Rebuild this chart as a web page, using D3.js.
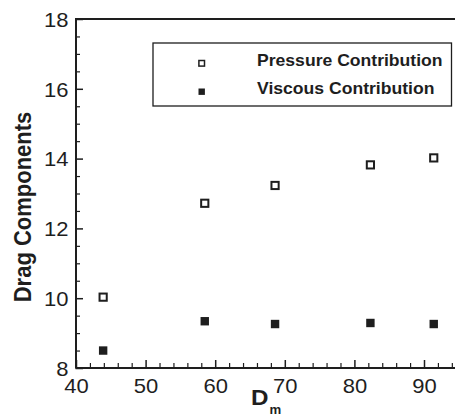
<!DOCTYPE html>
<html>
<head>
<meta charset="utf-8">
<script src="https://cdn.jsdelivr.net/npm/d3@7"></script>
<style>
  html, body { margin: 0; padding: 0; background: #fff; }
  svg { display: block; font-family: "Liberation Sans", Arial, Helvetica, sans-serif; }
</style>
</head>
<body>
<svg id="chart" width="455" height="416"></svg>
<script>
// Characteristic size D_m of each configuration
const dm = [43.9, 58.5, 68.6, 82.3, 91.4];
// Drag components for each configuration
const pressure = [10.03, 12.72, 13.23, 13.82, 14.02];
const viscous = [8.5, 9.34, 9.26, 9.29, 9.26];
// Axis ticks
const xMajor = [40, 50, 60, 70, 80, 90];
const yMajor = [8, 10, 12, 14, 16, 18];
const seriesNames = ["Pressure Contribution", "Viscous Contribution"];

const ink = "#1e1e1e";
const stretch = 1.1; // horizontal stretch of the lettering

const svg = d3.select("#chart");

const x = d3.scaleLinear().domain([40, 95]).range([76, 458.8]);
const y = d3.scaleLinear().domain([8, 18]).range([368, 19]);

// d3 axes draw at a half-pixel offset; shift groups so lines land on whole pixels
const ax = x(40) - 0.5, ay = y(8) - 0.5;

// top frame line
svg.append("line")
  .attr("x1", x(40) - 1).attr("x2", x(95))
  .attr("y1", y(18)).attr("y2", y(18))
  .attr("stroke", ink).attr("stroke-width", 2);

// minor ticks
const xMinor = d3.range(40, 96, 2).filter(v => v % 10 !== 0);
const yMinor = d3.range(8, 18.01, 0.5).filter(v => v % 2 !== 0);

svg.append("g")
  .attr("transform", `translate(0,${ay})`)
  .call(d3.axisBottom(x).tickValues(xMinor).tickSize(-4.5).tickFormat(""))
  .call(g => g.select(".domain").remove())
  .call(g => g.selectAll("line").attr("stroke", ink).attr("stroke-width", 1.2));

svg.append("g")
  .attr("transform", `translate(${ax},0)`)
  .call(d3.axisLeft(y).tickValues(yMinor).tickSize(-4.5).tickFormat(""))
  .call(g => g.select(".domain").remove())
  .call(g => g.selectAll("line").attr("stroke", ink).attr("stroke-width", 1.2));

const labelStyle = sel => sel
  .attr("fill", ink)
  .style("font-size", "20px")
  .style("font-family", "'Liberation Sans', Arial, sans-serif");

// major x axis
svg.append("g")
  .attr("transform", `translate(0,${ay})`)
  .call(d3.axisBottom(x).tickValues(xMajor).tickSizeInner(-7.5).tickSizeOuter(0).tickFormat(d3.format("d")))
  .call(g => g.select(".domain").attr("stroke", ink).attr("stroke-width", 2))
  .call(g => g.selectAll("line").attr("stroke", ink).attr("stroke-width", 1.5))
  .call(g => g.selectAll("text")
    .attr("x", 0).attr("y", 0).attr("dy", null)
    .attr("transform", `translate(0,25) scale(${stretch},1)`)
    .attr("text-anchor", "middle")
    .call(labelStyle));

// major y axis
svg.append("g")
  .attr("transform", `translate(${ax},0)`)
  .call(d3.axisLeft(y).tickValues(yMajor).tickSizeInner(-7.5).tickSizeOuter(0).tickFormat(d3.format("d")))
  .call(g => g.select(".domain").attr("stroke", ink).attr("stroke-width", 2))
  .call(g => g.selectAll("line").attr("stroke", ink).attr("stroke-width", 1.5))
  .call(g => g.selectAll("text")
    .attr("x", 0).attr("y", 0).attr("dy", "0.36em")
    .attr("transform", `translate(-7,0) scale(${stretch},1)`)
    .attr("text-anchor", "end")
    .call(labelStyle));

// axis titles
const xt = svg.append("text")
  .attr("transform", `translate(251,405) scale(${stretch},1)`)
  .attr("fill", ink)
  .style("font-size", "22px").style("font-weight", "bold");
xt.append("tspan").text("D");
xt.append("tspan").attr("dy", 8.5).attr("dx", 1).style("font-size", "12px").text("m");

svg.append("text")
  .attr("transform", `translate(31,207) scale(${stretch},1) rotate(-90)`)
  .attr("text-anchor", "middle")
  .attr("fill", ink)
  .style("font-size", "22px").style("font-weight", "bold")
  .text("Drag Components");

// data markers
const pts = dm.map((d, i) => ({ d, p: pressure[i], v: viscous[i] }));

svg.append("g").selectAll("rect")
  .data(pts).join("rect")
  .attr("x", o => x(o.d) - 3.6).attr("y", o => y(o.p) - 3.6)
  .attr("width", 7.2).attr("height", 7.2)
  .attr("fill", "#fff").attr("stroke", ink).attr("stroke-width", 2);

svg.append("g").selectAll("rect")
  .data(pts).join("rect")
  .attr("x", o => x(o.d) - 4.2).attr("y", o => y(o.v) - 4.2)
  .attr("width", 8.4).attr("height", 8.4)
  .attr("fill", ink);

// legend
const lg = svg.append("g");
lg.append("rect")
  .attr("x", 153).attr("y", 43).attr("width", 298.5).attr("height", 63)
  .attr("fill", "#fff").attr("stroke", ink).attr("stroke-width", 1.3);

lg.append("rect")
  .attr("x", 201.7 - 2.8).attr("y", 63.3 - 2.8).attr("width", 5.6).attr("height", 5.6)
  .attr("fill", "#fff").attr("stroke", ink).attr("stroke-width", 1.5);
lg.append("rect")
  .attr("x", 201.7 - 3.2).attr("y", 91.7 - 3.2).attr("width", 6.4).attr("height", 6.4)
  .attr("fill", ink);

lg.selectAll("text.lbl")
  .data(seriesNames).join("text")
  .attr("class", "lbl")
  .attr("transform", (t, i) => `translate(257,${i === 0 ? 65.5 : 94}) scale(1.1,1)`)
  .attr("fill", ink)
  .style("font-size", "16px").style("font-weight", "bold")
  .text(t => t);
</script>
</body>
</html>
